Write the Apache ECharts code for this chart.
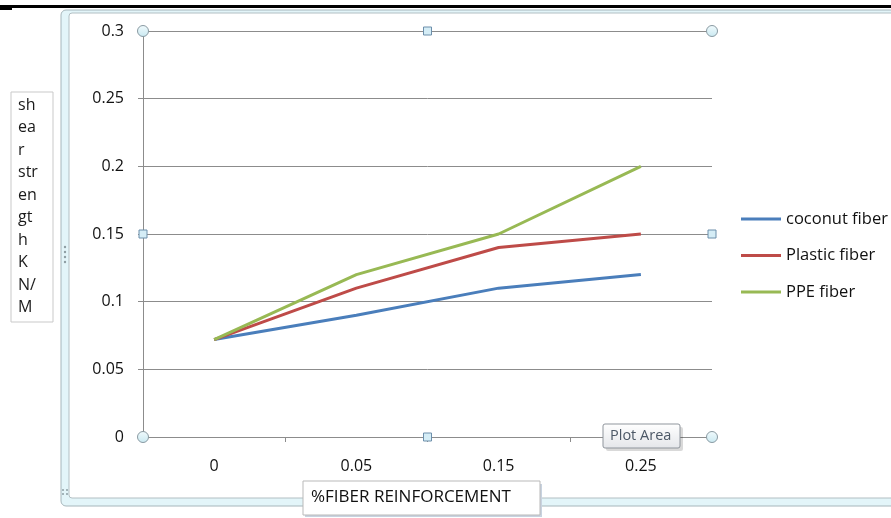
<!DOCTYPE html>
<html>
<head>
<meta charset="utf-8">
<script src="https://cdn.jsdelivr.net/npm/echarts@6/dist/echarts.min.js"></script>
<style>
  html, body { margin: 0; padding: 0; background: #fff; }
  #chart { width: 891px; height: 518px; }
</style>
</head>
<body>
<div id="chart"></div>
<script>
// Shear strength vs. fibre reinforcement content
const categories = ['0', '0.05', '0.15', '0.25'];
const coconutFiber = [0.072, 0.09, 0.11, 0.12];
const plasticFiber = [0.072, 0.11, 0.14, 0.15];
const ppeFiber = [0.072, 0.12, 0.15, 0.2];
const seriesNames = ['coconut fiber', 'Plastic fiber', 'PPE fiber'];
const seriesColors = ['#4a7ebb', '#be4b48', '#98b954'];
const yTitleLines = ['sh', 'ea', 'r', 'str', 'en', 'gt', 'h', 'K', 'N/', 'M'];
const xTitle = '%FIBER REINFORCEMENT';

const FONT = '"Open Sans", "Noto Sans", sans-serif';
const G = { left: 143, top: 31, width: 569, height: 406 };

const chart = echarts.init(document.getElementById('chart'), null, { renderer: 'canvas' });

// Selection handles around the plot area
function handles() {
  const x0 = G.left, x1 = G.left + G.width, y0 = G.top, y1 = G.top + G.height;
  const xm = (x0 + x1) / 2, ym = (y0 + y1) / 2;
  const circ = (x, y) => ({
    type: 'circle', shape: { cx: x, cy: y, r: 5.5 }, z: 100,
    style: { fill: new echarts.graphic.LinearGradient(0, 0, 0, 1, [
      { offset: 0, color: '#f2fbfd' }, { offset: 1, color: '#c9e9f1' }]),
      stroke: '#8a9aa2', lineWidth: 1 }
  });
  const sq = (x, y) => ({
    type: 'rect', shape: { x: x - 4, y: y - 4, width: 8, height: 8 }, z: 100,
    style: { fill: '#d5edf6', stroke: '#6d8fab', lineWidth: 1 }
  });
  return [circ(x0, y0), circ(x1, y0), circ(x0, y1), circ(x1, y1),
          sq(xm, y0), sq(xm, y1), sq(x0, ym), sq(x1, ym)];
}

const yTitleText = yTitleLines.map((t, i) => ({
  type: 'text', left: 18, top: 97 + i * 22.5, z: 50,
  style: { text: t, font: '16px ' + FONT, fill: '#1a1a1a' }
}));

const graphic = [
  // top rule of the page
  { type: 'rect', shape: { x: 0, y: 5, width: 891, height: 3 }, style: { fill: '#000' }, z: 1 },
  { type: 'rect', shape: { x: 0, y: 8, width: 12, height: 2 }, style: { fill: '#000' }, z: 1 },
  // chart area frame
  { type: 'rect', shape: { x: 61, y: 10, width: 860, height: 496, r: 5 }, z: 0,
    style: { fill: '#e3f5f9', stroke: '#a6b6bb', lineWidth: 1 } },
  { type: 'rect', shape: { x: 69, y: 13, width: 850, height: 485, r: 3 }, z: 0,
    style: { fill: '#ffffff', stroke: '#b2bfc3', lineWidth: 1 } },
  // grip dots on the left frame
  ...[247, 252, 257, 262].map(y => ({ type: 'circle', shape: { cx: 65, cy: y, r: 1.2 }, z: 1,
    style: { fill: '#8e9ea3' } })),
  ...[[63, 490], [67, 490], [63, 494], [67, 494]].map(p => ({ type: 'circle',
    shape: { cx: p[0], cy: p[1], r: 1 }, z: 1, style: { fill: '#8e9ea3' } })),
  // y axis title box
  { type: 'rect', shape: { x: 11, y: 92, width: 42, height: 230 }, z: 40,
    style: { fill: '#fff', stroke: '#c9c9c9', lineWidth: 1 } },
  ...yTitleText,
  // x axis title box
  { type: 'rect', shape: { x: 305, y: 484, width: 237, height: 33 }, z: 40,
    style: { fill: '#c8d3e0' } },
  { type: 'rect', shape: { x: 303, y: 481, width: 237, height: 34 }, z: 41,
    style: { fill: '#fff', stroke: '#b9b9b9', lineWidth: 1 } },
  { type: 'text', left: 311, top: 489, z: 42,
    style: { text: xTitle, font: '17px ' + FONT, fill: '#111' } },
  ...handles(),
  // "Plot Area" hover tip
  { type: 'rect', shape: { x: 606, y: 427, width: 77, height: 24, r: 2 }, z: 110,
    style: { fill: 'rgba(0,0,0,0.15)' } },
  { type: 'rect', shape: { x: 603, y: 424, width: 77, height: 24, r: 2 }, z: 111,
    style: { fill: new echarts.graphic.LinearGradient(0, 0, 0, 1, [
      { offset: 0, color: '#ffffff' }, { offset: 1, color: '#e4e6ea' }]),
      stroke: '#8f959c', lineWidth: 1 } },
  { type: 'text', left: 610, top: 428, z: 112,
    style: { text: 'Plot Area', font: '14.5px ' + FONT, fill: '#4c5866' } }
];

const lineSeries = [coconutFiber, plasticFiber, ppeFiber].map((d, i) => ({
  name: seriesNames[i], type: 'line', data: d, symbol: 'none',
  lineStyle: { width: 3, color: seriesColors[i] }, itemStyle: { color: seriesColors[i] },
  z: 10 + i
}));

chart.setOption({
  animation: false,
  textStyle: { fontFamily: FONT },
  graphic: graphic,
  grid: { left: G.left, top: G.top, width: G.width, height: G.height,
          show: true, borderColor: '#8c8c8c', borderWidth: 1, backgroundColor: 'transparent' },
  legend: {
    orient: 'vertical', left: 741, top: 210, itemGap: 18.5, padding: 0,
    itemWidth: 40, itemHeight: 3, icon: 'rect',
    textStyle: { fontSize: 16.5, color: '#111', lineHeight: 18, fontFamily: FONT },
    itemStyle: { borderWidth: 0 },
    data: seriesNames
  },
  xAxis: {
    type: 'category', data: categories, boundaryGap: true,
    axisLine: { lineStyle: { color: '#8c8c8c', width: 1 } },
    axisTick: { show: true, length: 5, lineStyle: { color: '#8c8c8c' } },
    axisLabel: { margin: 21, fontSize: 16, color: '#111', fontFamily: FONT },
    splitLine: { show: false }
  },
  yAxis: {
    type: 'value', min: 0, max: 0.3, interval: 0.05,
    axisLine: { show: true, lineStyle: { color: '#8c8c8c', width: 1 } },
    axisTick: { show: true, length: 5, lineStyle: { color: '#8c8c8c' } },
    axisLabel: { margin: 19, fontSize: 16, color: '#111', fontFamily: FONT },
    splitLine: { show: true, lineStyle: { color: '#8c8c8c', width: 1 } }
  },
  series: lineSeries
});
</script>
</body>
</html>
